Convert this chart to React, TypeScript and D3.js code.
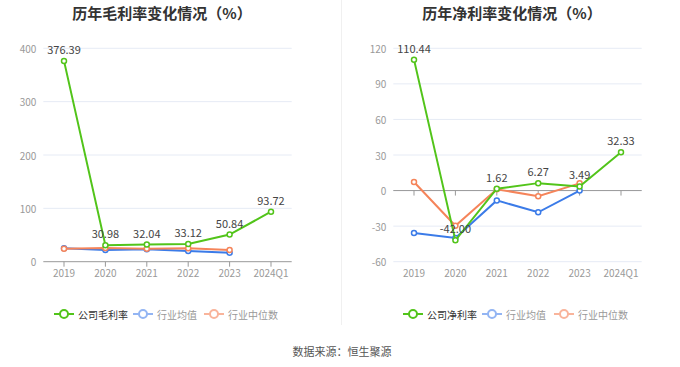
import React from "react";
import * as d3 from "d3";

const years = ["2019", "2020", "2021", "2022", "2023", "2024Q1"];

const grossCompany = [376.39, 30.98, 32.04, 33.12, 50.84, 93.72];
const grossAvg = [25, 22, 23.5, 20, 17];
const grossMedian = [24.5, 25.5, 24.2, 25, 22];

const netCompany = [110.44, -42.0, 1.62, 6.27, 3.49, 32.33];
const netAvg = [-35.8, -40, -8.3, -18.3, 0];
const netMedian = [7.2, -29.7, 1.1, -4.7, 6.1];

const grossTicks = [0, 100, 200, 300, 400];
const netTicks = [-60, -30, 0, 30, 60, 90, 120];

const GREEN = "#52c41a";
const BLUE = "#3b7be8";
const ORANGE = "#f5845a";
const FONT = "'Noto Sans CJK SC', 'Noto Sans', sans-serif";

type PanelProps = {
  left: number;
  title: string;
  legendName: string;
  company: number[];
  avg: number[];
  median: number[];
  domain: [number, number];
  ticks: number[];
  legendX: number[];
};

const Panel = ({ left, title, legendName, company, avg, median, domain, ticks, legendX }: PanelProps) => {
  const x0 = left + 43.3;
  const x1 = left + 291.7;
  const x = d3.scalePoint<string>().domain(years).range([x0, x1]).padding(0.5);
  const y = d3.scaleLinear().domain(domain).range([261.7, 48.3]);
  const zeroY = y(Math.max(domain[0], 0));

  const line = d3
    .line<number>()
    .x((_, i) => x(years[i]) as number)
    .y((d) => y(d));

  const series = [
    { data: avg, color: BLUE },
    { data: median, color: ORANGE },
    { data: company, color: GREEN },
  ];

  const legend = [
    { name: legendName, color: GREEN, text: "#333" },
    { name: "行业均值", color: "#93b5f3", text: "#999" },
    { name: "行业中位数", color: "#f9b49b", text: "#999" },
  ];

  return (
    <g>
      <text
        x={left + 162}
        y={12}
        textAnchor="middle"
        dominantBaseline="central"
        fontSize={15}
        fontWeight="bold"
        fill="#333"
      >
        {title}
      </text>
      {ticks.map((t) => (
        <g key={t}>
          {t !== domain[0] || domain[0] < 0 ? (
            <line x1={x0} x2={x1} y1={y(t)} y2={y(t)} stroke="#e6ebf5" strokeWidth={1} />
          ) : null}
          <text
            x={x0 - 7}
            y={y(t)}
            textAnchor="end"
            dominantBaseline="central"
            fontSize={10}
            fill="#999"
          >
            {t}
          </text>
        </g>
      ))}
      <line x1={x0} x2={x1} y1={zeroY} y2={zeroY} stroke="#999" strokeWidth={1} />
      {years.map((yr) => (
        <g key={yr}>
          <line
            x1={x(yr)}
            x2={x(yr)}
            y1={zeroY}
            y2={zeroY + 5}
            stroke="#999"
            strokeWidth={1}
          />
          <text
            x={x(yr)}
            y={272}
            textAnchor="middle"
            dominantBaseline="central"
            fontSize={10}
            fill="#999"
          >
            {yr}
          </text>
        </g>
      ))}
      {series.map((s, si) => (
        <g key={si}>
          <path d={line(s.data) || ""} fill="none" stroke={s.color} strokeWidth={2} />
          {s.data.map((d, i) => (
            <circle
              key={i}
              cx={x(years[i])}
              cy={y(d)}
              r={2.5}
              fill="#fff"
              stroke={s.color}
              strokeWidth={1.5}
            />
          ))}
        </g>
      ))}
      {company.map((d, i) => (
        <text
          key={i}
          x={x(years[i])}
          y={y(d) - 12}
          textAnchor="middle"
          dominantBaseline="central"
          fontSize={11}
          fill="#444"
        >
          {d.toFixed(2)}
        </text>
      ))}
      {legend.map((l, i) => (
        <g key={l.name}>
          <line
            x1={legendX[i] - 10}
            x2={legendX[i] + 10}
            y1={314}
            y2={314}
            stroke={l.color}
            strokeWidth={2}
          />
          <circle cx={legendX[i]} cy={314} r={4} fill="#fff" stroke={l.color} strokeWidth={2} />
          <text
            x={legendX[i] + 14}
            y={314}
            dominantBaseline="central"
            fontSize={10}
            fill={l.text}
          >
            {l.name}
          </text>
        </g>
      ))}
    </g>
  );
};

export default function App() {
  return (
    <svg
      width={680}
      height={367}
      style={{ position: "absolute", left: 0, top: 0, fontFamily: FONT }}
    >
      <rect width={680} height={367} fill="#fff" />
      <line x1={341.5} x2={341.5} y1={0} y2={325} stroke="#f0f0f0" strokeWidth={1} />
      <Panel
        left={0}
        title="历年毛利率变化情况（%）"
        legendName="公司毛利率"
        company={grossCompany}
        avg={grossAvg}
        median={grossMedian}
        domain={[0, 400]}
        ticks={grossTicks}
        legendX={[64, 143, 214]}
      />
      <Panel
        left={350}
        title="历年净利率变化情况（%）"
        legendName="公司净利率"
        company={netCompany}
        avg={netAvg}
        median={netMedian}
        domain={[-60, 120]}
        ticks={netTicks}
        legendX={[413, 492, 564]}
      />
      <text
        x={342}
        y={351}
        textAnchor="middle"
        dominantBaseline="central"
        fontSize={11}
        fill="#555"
      >
        数据来源：恒生聚源
      </text>
    </svg>
  );
}
